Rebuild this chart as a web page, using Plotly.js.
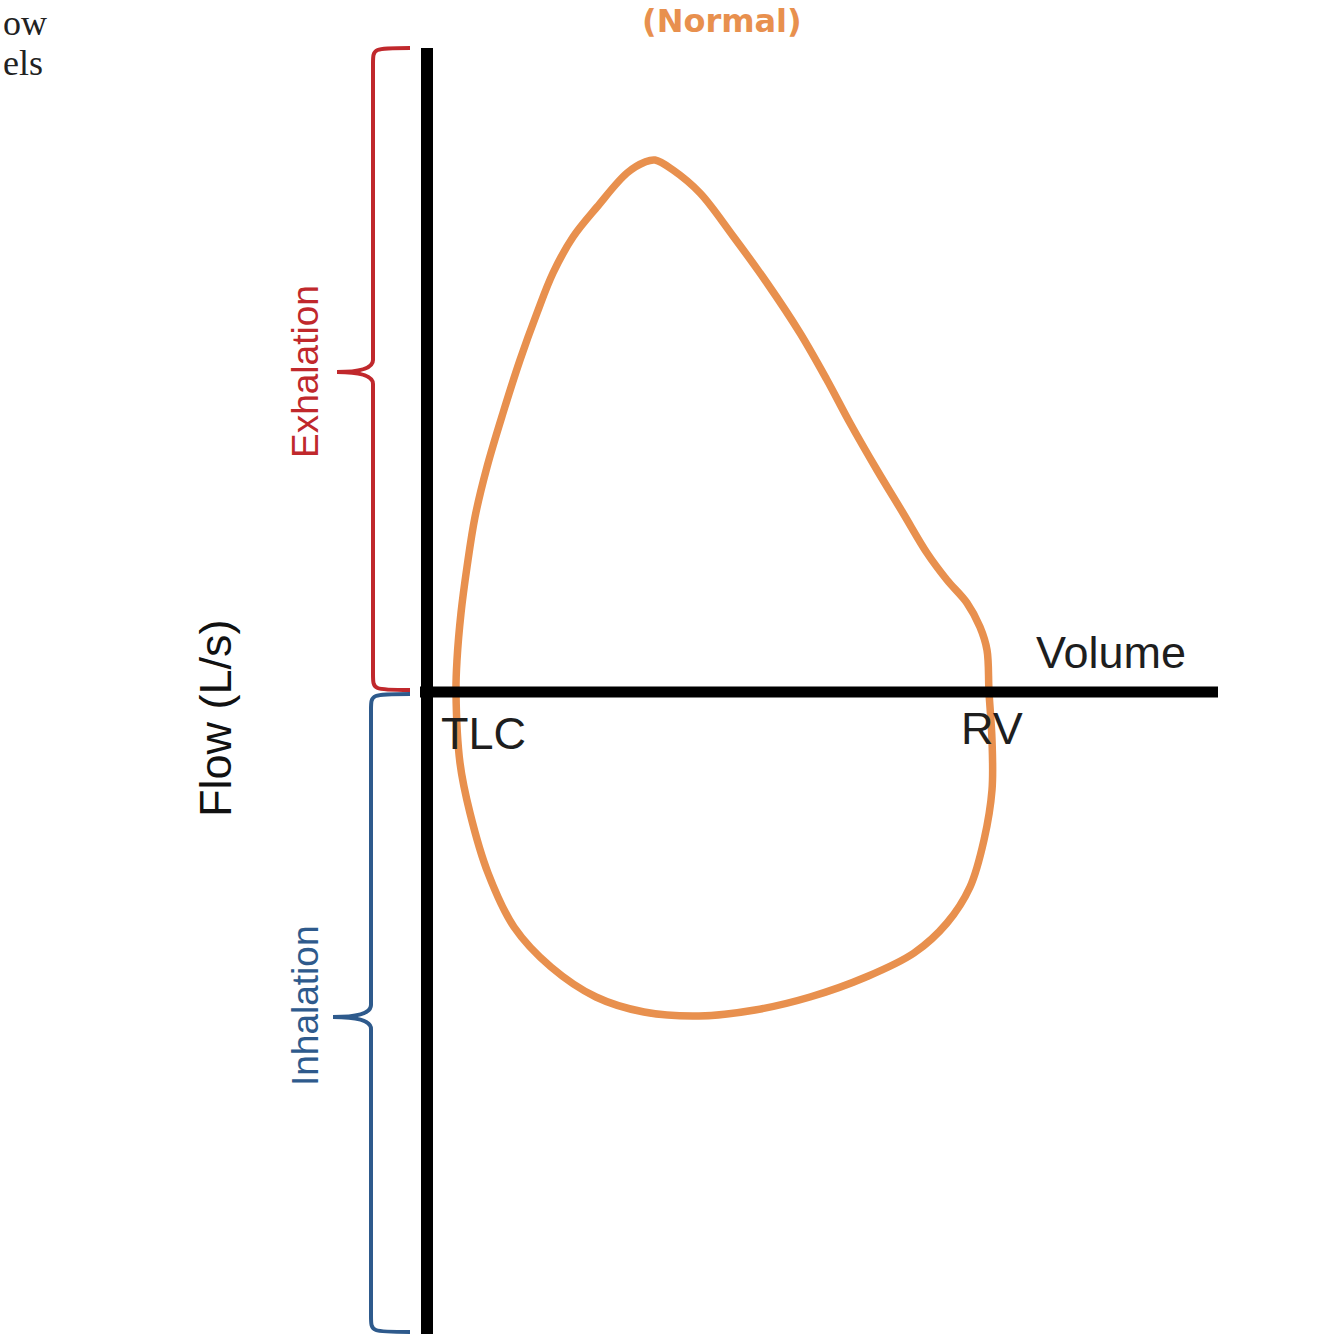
<!DOCTYPE html>
<html>
<head>
<meta charset="utf-8">
<script src="https://cdn.plot.ly/plotly-3.0.1.min.js"></script>
<style>html,body{margin:0;padding:0;background:#fff;}#chart{width:1334px;height:1334px;}</style>
</head>
<body>
<div id="chart"></div>
<script>
// Flow-volume loop (normal), volume and flow in arbitrary units (origin = axes crossing)
const loopVolume = [0.29,0.30,0.34,0.40,0.48,0.60,0.76,0.93,1.10,1.26,1.46,1.70,2.00,2.18,2.28,2.46,2.73,3.06,3.40,3.73,4.00,4.23,4.50,4.76,5.00,5.20,5.40,5.53,5.60,5.62,
  5.65,5.65,5.57,5.43,5.20,4.87,4.39,3.83,3.28,2.72,2.17,1.69,1.24,0.87,0.61,0.43,0.33,0.29];
const loopFlow = [0.00,0.32,0.79,1.25,1.75,2.25,2.79,3.32,3.79,4.19,4.55,4.85,5.19,5.30,5.32,5.22,4.99,4.56,4.09,3.59,3.12,2.69,2.22,1.79,1.39,1.12,0.89,0.65,0.42,0.00,
  -0.48,-0.98,-1.48,-1.95,-2.31,-2.61,-2.85,-3.05,-3.18,-3.24,-3.20,-3.05,-2.75,-2.35,-1.81,-1.21,-0.71,0.00];

const titleText = "(Normal)";
const xLabel = "Volume";
const yLabel = "Flow (L/s)";
const pointLabels = ["TLC", "RV"];
const pointVolume = [0.56, 5.65];
const braceLabels = ["Exhalation", "Inhalation"];
const cropText = ["ow", "els"];

// view extents (data units)
const xRange = [-4.27, 9.07];
const yRange = [-6.42, 6.92];
const axisX = [-0.07, 7.91];      // horizontal axis extent
const axisY = [-6.5, 6.44];       // vertical axis extent

function bracePath(xEnd, xSpine, xTip, yA, yMid, yB) {
  const s = yA > yB ? -1 : 1;
  const r = 0.16;
  return `M ${xEnd},${yA} C ${xSpine},${yA} ${xSpine},${yA} ${xSpine},${yA + s*r} ` +
         `L ${xSpine},${yMid - s*0.12} Q ${xSpine},${yMid} ${xTip},${yMid} ` +
         `Q ${xSpine},${yMid} ${xSpine},${yMid + s*0.12} ` +
         `L ${xSpine},${yB - s*r} C ${xSpine},${yB} ${xSpine},${yB} ${xEnd},${yB}`;
}

const orange = '#E8904E';
const red = '#C0282C';
const blue = '#2E5A8C';

const trace = {
  x: loopVolume, y: loopFlow, mode: 'lines', type: 'scatter',
  line: {color: orange, width: 7.5, shape: 'spline', smoothing: 1.0},
  hoverinfo: 'skip'
};

const sansFont = 'Liberation Sans, Arial, Helvetica, sans-serif';
const serifFont = 'Liberation Serif, Times New Roman, serif';

const layout = {
  width: 1334, height: 1334,
  margin: {l: 0, r: 0, t: 0, b: 0},
  paper_bgcolor: '#fff', plot_bgcolor: '#fff',
  showlegend: false,
  xaxis: {range: xRange, visible: false, fixedrange: true},
  yaxis: {range: yRange, visible: false, fixedrange: true},
  shapes: [
    {type: 'line', x0: 0, x1: 0, y0: axisY[0], y1: axisY[1], line: {color: '#000', width: 12}},
    {type: 'line', x0: axisX[0], x1: axisX[1], y0: 0, y1: 0, line: {color: '#000', width: 11}},
    {type: 'path', path: bracePath(-0.17, -0.54, -0.90, 6.44, 3.20, 0.02), line: {color: red, width: 4}},
    {type: 'path', path: bracePath(-0.17, -0.56, -0.94, -0.02, -3.25, -6.40), line: {color: blue, width: 4}}
  ],
  annotations: [
    {x: 2.95, y: 6.71, text: titleText, showarrow: false, xanchor: 'center', yanchor: 'middle',
     font: {family: 'DejaVu Sans, sans-serif', size: 32, color: orange, weight: 'bold'}},
    {x: 6.84, y: 0.40, text: xLabel, showarrow: false, xanchor: 'center', yanchor: 'middle',
     font: {family: sansFont, size: 45, color: '#1e1e1e'}},
    {x: -2.12, y: -0.26, text: yLabel, showarrow: false, textangle: -90, xanchor: 'center', yanchor: 'middle',
     font: {family: sansFont, size: 45, color: '#111'}},
    {x: pointVolume[0], y: -0.41, text: pointLabels[0], showarrow: false, xanchor: 'center', yanchor: 'middle',
     font: {family: sansFont, size: 45, color: '#1e1e1e'}},
    {x: pointVolume[1], y: -0.36, text: pointLabels[1], showarrow: false, xanchor: 'center', yanchor: 'middle',
     font: {family: sansFont, size: 45, color: '#1e1e1e'}},
    {x: -1.22, y: 3.20, text: braceLabels[0], showarrow: false, textangle: -90, xanchor: 'center', yanchor: 'middle',
     font: {family: sansFont, size: 37, color: red}},
    {x: -1.22, y: -3.14, text: braceLabels[1], showarrow: false, textangle: -90, xanchor: 'center', yanchor: 'middle',
     font: {family: sansFont, size: 37, color: blue}},
    {x: -4.26, y: 6.91, text: cropText[0], showarrow: false, xanchor: 'left', yanchor: 'top',
     font: {family: serifFont, size: 36, color: '#222'}},
    {x: -4.26, y: 6.29, text: cropText[1], showarrow: false, xanchor: 'left', yanchor: 'middle',
     font: {family: serifFont, size: 36, color: '#222'}}
  ]
};

Plotly.newPlot('chart', [trace], layout, {staticPlot: true, displayModeBar: false});
</script>
</body>
</html>
